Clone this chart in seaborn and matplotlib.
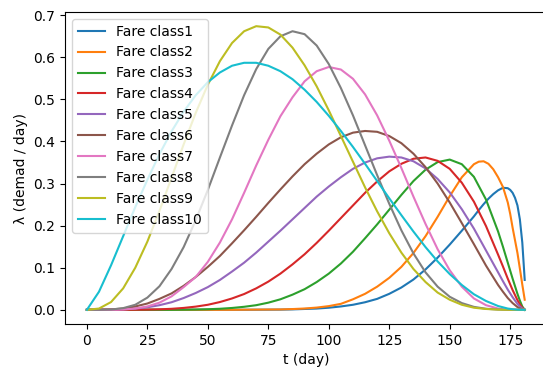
import matplotlib
matplotlib.use("Agg")
import matplotlib.pyplot as plt
import seaborn as sns

# booking horizon (days)
t_days = [0, 5, 10, 15, 20, 25, 30, 35, 40, 45, 50, 55, 60, 65, 70, 75, 80, 85,
          90, 95, 100, 105, 110, 115, 120, 125, 130, 135, 140, 145, 150, 155,
          160, 165, 170, 172, 174, 176, 178, 179, 180, 181]
# finer grid for the two late, narrow classes
t_days_late = [0, 60, 80, 85, 90, 95, 100, 105, 110, 115, 120, 125, 130, 135, 140, 145, 150, 155,
               160, 162, 164, 166, 168, 170, 172, 174, 175, 176, 177, 178, 179, 180, 181]

fare1 = [0, 0, 0.0005, 0.001, 0.002, 0.003, 0.005, 0.008, 0.012, 0.018, 0.026, 0.038, 0.053, 0.072, 0.096, 0.124, 0.155, 0.188,
         0.222, 0.237, 0.251, 0.264, 0.275, 0.284, 0.290, 0.289, 0.285, 0.278, 0.266, 0.248, 0.215, 0.160, 0.071]
fare2 = [0, 0, 0.0009, 0.0018, 0.0031, 0.0053, 0.0088, 0.0142, 0.025, 0.038, 0.055, 0.076, 0.102, 0.135, 0.175, 0.221, 0.270, 0.315,
         0.346, 0.352, 0.353, 0.347, 0.334, 0.315, 0.292, 0.255, 0.228, 0.195, 0.165, 0.135, 0.098, 0.060, 0.024]
fare3 = [0, 0, 0, 0, 0, 0, 0, 0, 0.0003, 0.0007, 0.0014, 0.0025, 0.0044, 0.0072, 0.011, 0.017, 0.025, 0.036,
         0.049, 0.066, 0.086, 0.110, 0.138, 0.170, 0.203, 0.238, 0.273, 0.306, 0.333, 0.351, 0.357, 0.346,
         0.316, 0.262, 0.186, 0.150, 0.112, 0.074, 0.038, 0.022, 0.008, 0]
fare4 = [0, 0, 0, 0, 0.0002, 0.0005, 0.0012, 0.0024, 0.0045, 0.0076, 0.012, 0.0185, 0.027, 0.0375, 0.051, 0.067, 0.086, 0.108,
         0.132, 0.159, 0.188, 0.218, 0.248, 0.278, 0.305, 0.329, 0.347, 0.359, 0.362, 0.354, 0.335, 0.302,
         0.257, 0.199, 0.131, 0.103, 0.074, 0.047, 0.023, 0.013, 0.005, 0]
fare5 = [0, 0, 0.0003, 0.0012, 0.003, 0.006, 0.011, 0.018, 0.028, 0.040, 0.054, 0.071, 0.091, 0.112, 0.136, 0.162, 0.188, 0.215,
         0.242, 0.269, 0.293, 0.315, 0.335, 0.350, 0.360, 0.364, 0.362, 0.353, 0.336, 0.311, 0.279, 0.239,
         0.193, 0.141, 0.089, 0.068, 0.048, 0.030, 0.014, 0.008, 0.003, 0]
fare6 = [0, 0.0001, 0.001, 0.003, 0.008, 0.015, 0.026, 0.039, 0.057, 0.078, 0.102, 0.128, 0.158, 0.189, 0.221, 0.254, 0.286, 0.317,
         0.346, 0.371, 0.393, 0.410, 0.421, 0.425, 0.423, 0.413, 0.396, 0.371, 0.339, 0.300, 0.255, 0.206,
         0.156, 0.105, 0.059, 0.043, 0.028, 0.016, 0.0066, 0.0032, 0.0009, 0]
fare7 = [0, 0, 0.0001, 0.0008, 0.003, 0.008, 0.017, 0.032, 0.054, 0.078, 0.114, 0.160, 0.215, 0.278, 0.343, 0.404, 0.460, 0.505,
         0.543, 0.567, 0.577, 0.571, 0.549, 0.512, 0.462, 0.402, 0.337, 0.269, 0.204, 0.144, 0.094, 0.055,
         0.027, 0.011, 0.003, 0.0013, 0.0005, 0.0001, 0, 0, 0, 0]
fare8 = [0, 0, 0.0007, 0.004, 0.012, 0.029, 0.056, 0.097, 0.149, 0.213, 0.285, 0.362, 0.438, 0.510, 0.572, 0.620, 0.650, 0.662,
         0.655, 0.628, 0.584, 0.527, 0.462, 0.391, 0.320, 0.252, 0.189, 0.134, 0.089, 0.055, 0.031, 0.016,
         0.007, 0.0025, 0.0006, 0.0003, 0.0001, 0, 0, 0, 0, 0]
fare9 = [0, 0.003, 0.0185, 0.051, 0.100, 0.162, 0.235, 0.314, 0.393, 0.468, 0.535, 0.591, 0.634, 0.662, 0.674, 0.671, 0.654, 0.623,
         0.581, 0.531, 0.474, 0.413, 0.352, 0.291, 0.234, 0.182, 0.136, 0.097, 0.066, 0.041, 0.024, 0.012,
         0.005, 0.002, 0.0005, 0.0003, 0.0001, 0, 0, 0, 0, 0]
fare10 = [0, 0.043, 0.106, 0.175, 0.244, 0.309, 0.370, 0.424, 0.471, 0.510, 0.541, 0.564, 0.580, 0.587, 0.587, 0.580, 0.567, 0.548,
          0.523, 0.494, 0.461, 0.425, 0.387, 0.347, 0.306, 0.265, 0.225, 0.186, 0.149, 0.115, 0.085, 0.059,
          0.037, 0.021, 0.009, 0.006, 0.003, 0.0015, 0.0004, 0.0002, 0.0001, 0]

fare_classes = [fare1, fare2, fare3, fare4, fare5, fare6, fare7, fare8, fare9, fare10]
labels = [f"Fare class{i}" for i in range(1, 11)]


def main():
    fig = plt.figure(figsize=(5.43, 3.72), dpi=100)
    # axes run slightly past the right edge, as in the cropped original
    ax = fig.add_axes([65 / 543, 48 / 372, 481.6 / 543, 312 / 372])

    colors = sns.color_palette("tab10", 10)
    for i, (name, vals, color) in enumerate(zip(labels, fare_classes, colors)):
        days = t_days_late if i < 2 else t_days
        sns.lineplot(x=days, y=vals, label=name, color=color, ax=ax)

    ax.set_xlabel("t (day)")
    ax.set_ylabel("λ (demad / day)")
    ax.legend(loc="upper left")

    fig.savefig("out.png", dpi=100)


if __name__ == "__main__":
    main()
